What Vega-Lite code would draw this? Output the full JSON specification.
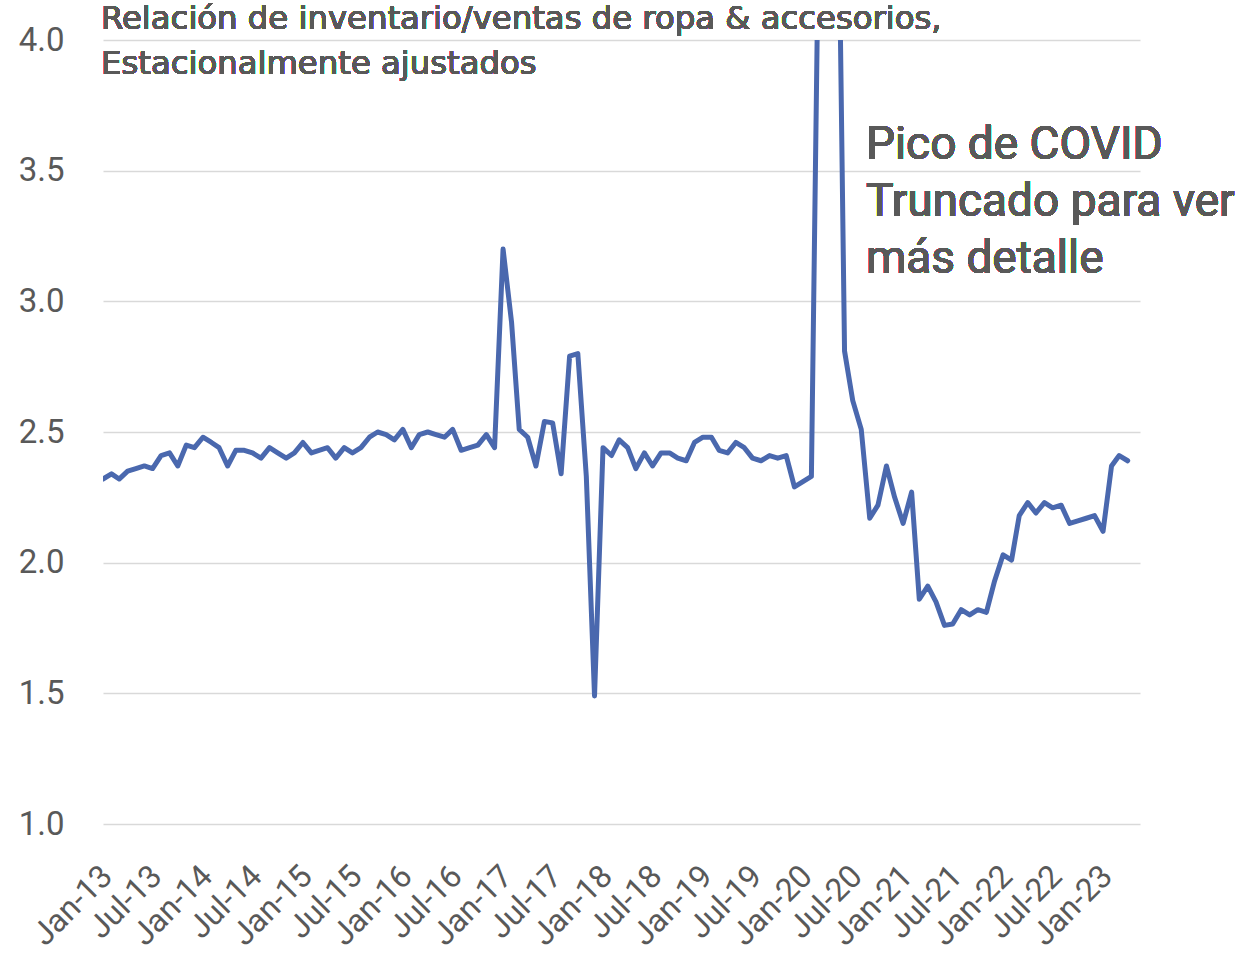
{
  "$schema": "https://vega.github.io/schema/vega-lite/v6.json",
  "width": 1037,
  "height": 784,
  "autosize": {"type": "none"},
  "padding": {"left": 103, "top": 40, "right": 117, "bottom": 129},
  "background": "white",
  "config": {"view": {"stroke": null}, "font": "Roboto"},
  "data": {"values": [
    {"date": "2013-01-01", "ratio": 2.32}, {"date": "2013-02-01", "ratio": 2.34}, {"date": "2013-03-01", "ratio": 2.32}, {"date": "2013-04-01", "ratio": 2.35},
    {"date": "2013-05-01", "ratio": 2.36}, {"date": "2013-06-01", "ratio": 2.37}, {"date": "2013-07-01", "ratio": 2.36}, {"date": "2013-08-01", "ratio": 2.41},
    {"date": "2013-09-01", "ratio": 2.42}, {"date": "2013-10-01", "ratio": 2.37}, {"date": "2013-11-01", "ratio": 2.45}, {"date": "2013-12-01", "ratio": 2.44},
    {"date": "2014-01-01", "ratio": 2.48}, {"date": "2014-02-01", "ratio": 2.46}, {"date": "2014-03-01", "ratio": 2.44}, {"date": "2014-04-01", "ratio": 2.37},
    {"date": "2014-05-01", "ratio": 2.43}, {"date": "2014-06-01", "ratio": 2.43}, {"date": "2014-07-01", "ratio": 2.42}, {"date": "2014-08-01", "ratio": 2.40},
    {"date": "2014-09-01", "ratio": 2.44}, {"date": "2014-10-01", "ratio": 2.42}, {"date": "2014-11-01", "ratio": 2.40}, {"date": "2014-12-01", "ratio": 2.42},
    {"date": "2015-01-01", "ratio": 2.46}, {"date": "2015-02-01", "ratio": 2.42}, {"date": "2015-03-01", "ratio": 2.43}, {"date": "2015-04-01", "ratio": 2.44},
    {"date": "2015-05-01", "ratio": 2.40}, {"date": "2015-06-01", "ratio": 2.44}, {"date": "2015-07-01", "ratio": 2.42}, {"date": "2015-08-01", "ratio": 2.44},
    {"date": "2015-09-01", "ratio": 2.48}, {"date": "2015-10-01", "ratio": 2.50}, {"date": "2015-11-01", "ratio": 2.49}, {"date": "2015-12-01", "ratio": 2.47},
    {"date": "2016-01-01", "ratio": 2.51}, {"date": "2016-02-01", "ratio": 2.44}, {"date": "2016-03-01", "ratio": 2.49}, {"date": "2016-04-01", "ratio": 2.50},
    {"date": "2016-05-01", "ratio": 2.49}, {"date": "2016-06-01", "ratio": 2.48}, {"date": "2016-07-01", "ratio": 2.51}, {"date": "2016-08-01", "ratio": 2.43},
    {"date": "2016-09-01", "ratio": 2.44}, {"date": "2016-10-01", "ratio": 2.45}, {"date": "2016-11-01", "ratio": 2.49}, {"date": "2016-12-01", "ratio": 2.44},
    {"date": "2017-01-01", "ratio": 3.20}, {"date": "2017-02-01", "ratio": 2.92}, {"date": "2017-03-01", "ratio": 2.51}, {"date": "2017-04-01", "ratio": 2.48},
    {"date": "2017-05-01", "ratio": 2.37}, {"date": "2017-06-01", "ratio": 2.54}, {"date": "2017-07-01", "ratio": 2.535}, {"date": "2017-08-01", "ratio": 2.34},
    {"date": "2017-09-01", "ratio": 2.79}, {"date": "2017-10-01", "ratio": 2.80}, {"date": "2017-11-01", "ratio": 2.33}, {"date": "2017-12-01", "ratio": 1.49},
    {"date": "2018-01-01", "ratio": 2.44}, {"date": "2018-02-01", "ratio": 2.41}, {"date": "2018-03-01", "ratio": 2.47}, {"date": "2018-04-01", "ratio": 2.44},
    {"date": "2018-05-01", "ratio": 2.36}, {"date": "2018-06-01", "ratio": 2.42}, {"date": "2018-07-01", "ratio": 2.37}, {"date": "2018-08-01", "ratio": 2.42},
    {"date": "2018-09-01", "ratio": 2.42}, {"date": "2018-10-01", "ratio": 2.40}, {"date": "2018-11-01", "ratio": 2.39}, {"date": "2018-12-01", "ratio": 2.46},
    {"date": "2019-01-01", "ratio": 2.48}, {"date": "2019-02-01", "ratio": 2.48}, {"date": "2019-03-01", "ratio": 2.43}, {"date": "2019-04-01", "ratio": 2.42},
    {"date": "2019-05-01", "ratio": 2.46}, {"date": "2019-06-01", "ratio": 2.44}, {"date": "2019-07-01", "ratio": 2.40}, {"date": "2019-08-01", "ratio": 2.39},
    {"date": "2019-09-01", "ratio": 2.41}, {"date": "2019-10-01", "ratio": 2.40}, {"date": "2019-11-01", "ratio": 2.41}, {"date": "2019-12-01", "ratio": 2.29},
    {"date": "2020-01-01", "ratio": 2.31}, {"date": "2020-02-01", "ratio": 2.33}, {"date": "2020-03-01", "ratio": 4.65}, {"date": "2020-04-01", "ratio": 12.0},
    {"date": "2020-05-01", "ratio": 5.3}, {"date": "2020-06-01", "ratio": 2.81}, {"date": "2020-07-01", "ratio": 2.62}, {"date": "2020-08-01", "ratio": 2.51},
    {"date": "2020-09-01", "ratio": 2.17}, {"date": "2020-10-01", "ratio": 2.22}, {"date": "2020-11-01", "ratio": 2.37}, {"date": "2020-12-01", "ratio": 2.25},
    {"date": "2021-01-01", "ratio": 2.15}, {"date": "2021-02-01", "ratio": 2.27}, {"date": "2021-03-01", "ratio": 1.86}, {"date": "2021-04-01", "ratio": 1.91},
    {"date": "2021-05-01", "ratio": 1.85}, {"date": "2021-06-01", "ratio": 1.76}, {"date": "2021-07-01", "ratio": 1.765}, {"date": "2021-08-01", "ratio": 1.82},
    {"date": "2021-09-01", "ratio": 1.80}, {"date": "2021-10-01", "ratio": 1.82}, {"date": "2021-11-01", "ratio": 1.81}, {"date": "2021-12-01", "ratio": 1.93},
    {"date": "2022-01-01", "ratio": 2.03}, {"date": "2022-02-01", "ratio": 2.01}, {"date": "2022-03-01", "ratio": 2.18}, {"date": "2022-04-01", "ratio": 2.23},
    {"date": "2022-05-01", "ratio": 2.19}, {"date": "2022-06-01", "ratio": 2.23}, {"date": "2022-07-01", "ratio": 2.21}, {"date": "2022-08-01", "ratio": 2.22},
    {"date": "2022-09-01", "ratio": 2.15}, {"date": "2022-10-01", "ratio": 2.16}, {"date": "2022-11-01", "ratio": 2.17}, {"date": "2022-12-01", "ratio": 2.18},
    {"date": "2023-01-01", "ratio": 2.12}, {"date": "2023-02-01", "ratio": 2.37}, {"date": "2023-03-01", "ratio": 2.41}, {"date": "2023-04-01", "ratio": 2.39}
  ]},
  "layer": [
    {
      "mark": {"type": "line", "clip": true, "color": "#4a68ae", "strokeWidth": 5, "strokeJoin": "round", "strokeCap": "round"},
      "encoding": {
        "x": {
          "field": "date", "type": "temporal",
          "scale": {"type": "utc", "domain": [{"year": 2013, "month": 1, "date": 1, "utc": true}, {"year": 2023, "month": 5, "date": 16, "utc": true}]},
          "axis": {
            "title": null, "grid": false, "domain": false, "ticks": false,
            "tickCount": {"interval": "month", "step": 6},
            "labelExpr": "utcFormat(datum.value, '%b-%y')",
            "labelAngle": -45, "labelAlign": "right", "labelBaseline": "top",
            "labelPadding": 36, "labelOffset": -7,
            "labelFontSize": 32, "labelColor": "#595959", "labelFont": "Roboto",
            "labelOverlap": false, "labelBound": false, "labelFlush": false
          }
        },
        "y": {
          "field": "ratio", "type": "quantitative",
          "scale": {"domain": [1, 4], "nice": false, "zero": false},
          "axis": {
            "title": null, "domain": false, "ticks": false, "grid": true,
            "gridColor": "#d9d9d9", "gridWidth": 1.5,
            "values": [1, 1.5, 2, 2.5, 3, 3.5, 4],
            "labelExpr": "format(datum.value, '.1f')",
            "labelFontSize": 33, "labelColor": "#595959", "labelFont": "Roboto",
            "labelPadding": 39, "labelBaseline": "middle"
          }
        }
      }
    },
    {
      "mark": {"type": "text", "text": ["Relación de inventario/ventas de ropa & accesorios,", "Estacionalmente ajustados"], "align": "left", "baseline": "alphabetic", "fontSize": 32.3, "lineHeight": 45, "color": "#595959", "font": "DejaVu Sans", "dx": -2},
      "encoding": {
        "x": {"datum": {"year": 2013, "month": 1, "date": 1, "utc": true}, "type": "temporal"},
        "y": {"datum": 4.042, "type": "quantitative"}
      }
    },
    {
      "mark": {"type": "text", "text": ["Pico de COVID", "Truncado para ver", "más detalle"], "align": "left", "baseline": "alphabetic", "fontSize": 46, "lineHeight": 57, "color": "#595959", "font": "Roboto"},
      "encoding": {
        "x": {"datum": {"year": 2020, "month": 8, "date": 18, "utc": true}, "type": "temporal"},
        "y": {"datum": 3.545, "type": "quantitative"}
      }
    }
  ]
}
